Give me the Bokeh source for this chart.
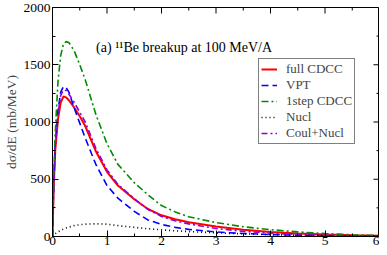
from bokeh.plotting import figure
from bokeh.models import Range1d, Legend, LegendItem, Label, FixedTicker
from bokeh.embed import file_html
from bokeh.resources import INLINE

# ---- data ----
E_full = [0, 0.02, 0.05, 0.1, 0.15, 0.2, 0.25, 0.3, 0.4, 0.5, 0.6, 0.8, 1.0, 1.2, 1.5, 1.75, 2.0, 2.25, 2.5, 3.0, 3.5, 4.0, 4.5, 5.0, 5.5, 6.0]
full_cdcc = [0, 400, 750, 1020, 1170, 1222, 1215, 1190, 1125, 1050, 965, 740, 565, 445, 325, 240, 185, 150, 125, 87, 58, 40, 27, 17, 10, 6]
vpt = [0, 420, 800, 1100, 1260, 1308, 1300, 1262, 1120, 990, 860, 625, 445, 335, 220, 145, 105, 80, 62, 40, 26, 17, 11, 7, 5, 3]
step1 = [0, 450, 900, 1350, 1580, 1680, 1702, 1695, 1620, 1500, 1370, 1060, 810, 630, 470, 365, 270, 215, 172, 122, 85, 60, 40, 25, 15, 8]
nucl = [0, 10, 24, 40, 53, 65, 74, 82, 95, 103, 108, 111, 108, 95, 80, 68, 58, 50, 43, 32, 23, 16, 11, 7, 5, 3]
coul_nucl = [0, 410, 780, 1070, 1230, 1280, 1275, 1245, 1170, 1085, 1000, 765, 582, 455, 330, 238, 175, 137, 110, 70, 45, 29, 18, 11, 7, 4]

x_ticks = [0, 1, 2, 3, 4, 5, 6]
x_minor = [0.5, 1.5, 2.5, 3.5, 4.5, 5.5]
y_ticks = [0, 500, 1000, 1500, 2000]
y_minor = [250, 750, 1250, 1750]

FONT = "Liberation Serif"
XMIN, XMAX, YMIN, YMAX = 0, 6, 0, 2000

p = figure(width=379, height=247, output_backend="svg", toolbar_location=None,
           x_range=Range1d(XMIN, XMAX), y_range=Range1d(YMIN, YMAX))
p.min_border_left = 39
p.min_border_right = 0
p.min_border_top = 7
p.min_border_bottom = 2
p.xgrid.visible = False
p.ygrid.visible = False
p.outline_line_color = "black"
p.outline_line_width = 1
p.background_fill_color = "white"
p.border_fill_color = "white"

def style_axis(ax, ticks, minor):
    ax.ticker = FixedTicker(ticks=ticks, minor_ticks=minor)
    ax.major_tick_in = 6
    ax.major_tick_out = 0
    ax.minor_tick_in = 3
    ax.minor_tick_out = 0
    ax.axis_line_color = "black"
    ax.major_tick_line_color = "black"
    ax.minor_tick_line_color = "black"
    ax.major_label_text_font = FONT
    ax.major_label_text_color = "black"
    ax.major_label_text_font_size = "13.5px"

style_axis(p.xaxis[0], x_ticks, x_minor)
style_axis(p.yaxis[0], y_ticks, y_minor)
p.xaxis[0].major_label_standoff = 0
p.yaxis[0].major_label_standoff = 2
p.yaxis[0].axis_label = "dσ/dE (mb/MeV)"
p.yaxis[0].axis_label_text_font = FONT
p.yaxis[0].axis_label_text_font_size = "13.5px"
p.yaxis[0].axis_label_text_font_style = "normal"
p.yaxis[0].axis_label_standoff = 2

# ticks on the top and right edges of the frame (mirroring the axes)
tick_len_y_major = 6 / 228 * (YMAX - YMIN)
tick_len_y_minor = 3 / 228 * (YMAX - YMIN)
tick_len_x_major = 6 / 326 * (XMAX - XMIN)
tick_len_x_minor = 3 / 326 * (XMAX - XMIN)
p.segment(x0=x_ticks, x1=x_ticks, y0=[YMAX] * len(x_ticks), y1=[YMAX - tick_len_y_major] * len(x_ticks),
          line_color="black", line_width=1)
p.segment(x0=x_minor, x1=x_minor, y0=[YMAX] * len(x_minor), y1=[YMAX - tick_len_y_minor] * len(x_minor),
          line_color="black", line_width=1)
p.segment(x0=[XMAX] * len(y_ticks), x1=[XMAX - tick_len_x_major] * len(y_ticks), y0=y_ticks, y1=y_ticks,
          line_color="black", line_width=1)
p.segment(x0=[XMAX] * len(y_minor), x1=[XMAX - tick_len_x_minor] * len(y_minor), y0=y_minor, y1=y_minor,
          line_color="black", line_width=1)

r_full = p.line(E_full, full_cdcc, line_color="#ff0000", line_width=2)
r_vpt = p.line(E_full, vpt, line_color="#0000ff", line_width=1.6, line_dash="7 4")
r_1s = p.line(E_full, step1, line_color="#008b00", line_width=1.6, line_dash="7 3 2 3")
r_nucl = p.line(E_full, nucl, line_color="black", line_width=1.6, line_dash="1 3")
r_cn = p.line(E_full, coul_nucl, line_color="#9400d3", line_width=1.6, line_dash="6 3 2 3")

legend = Legend(items=[
    LegendItem(label="full CDCC", renderers=[r_full]),
    LegendItem(label="VPT", renderers=[r_vpt]),
    LegendItem(label="1step CDCC", renderers=[r_1s]),
    LegendItem(label="Nucl", renderers=[r_nucl]),
    LegendItem(label="Coul+Nucl", renderers=[r_cn]),
])
legend.location = (206, 92)
legend.border_line_color = "black"
legend.border_line_width = 1
legend.background_fill_alpha = 1
legend.label_text_font = FONT
legend.label_text_font_size = "13px"
legend.label_height = 12
legend.glyph_height = 12
legend.glyph_width = 16
legend.label_standoff = 9
legend.spacing = 0
legend.padding = 2
legend.margin = 0
p.add_layout(legend, "center")

p.add_layout(Label(x=0.8, y=1650, text="(a) \u00b9\u00b9Be breakup at 100 MeV/A",
                   text_font=FONT, text_font_size="14px", text_baseline="middle",
                   text_color="black"))

open("out.html", "w").write(file_html(p, INLINE))
